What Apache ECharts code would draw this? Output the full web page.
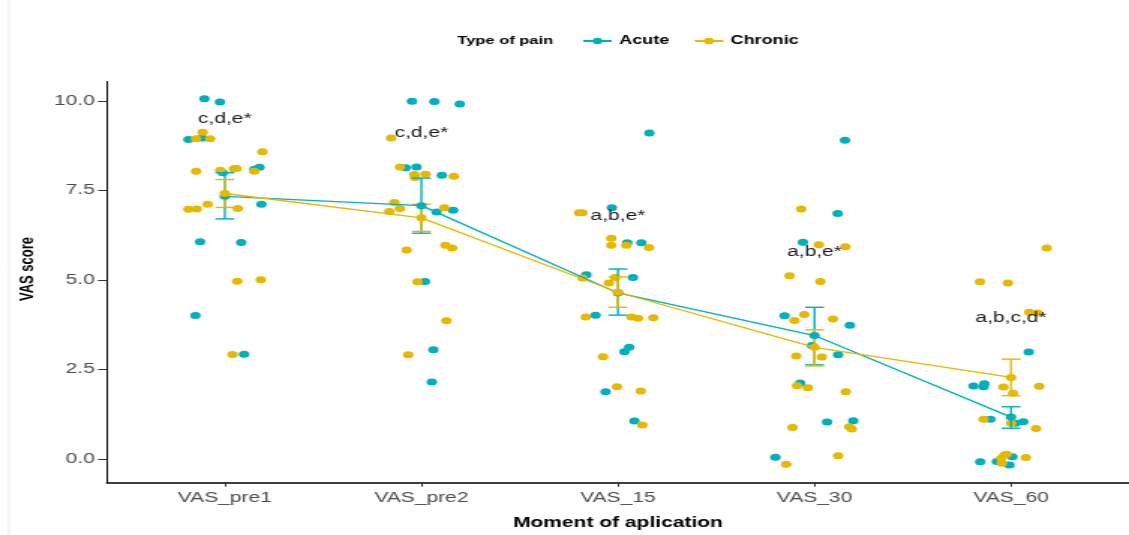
<!DOCTYPE html>
<html>
<head>
<meta charset="utf-8">
<script src="https://cdn.jsdelivr.net/npm/echarts@6/dist/echarts.min.js"></script>
<style>
  html, body { margin: 0; padding: 0; background: #fff; overflow: hidden; }
  /* the source picture is stretched sideways, so draw narrow and stretch */
  #main { width: 753px; height: 535px; transform: scaleX(1.4993); transform-origin: 0 0; }
</style>
</head>
<body>
<div id="main"></div>
<script>
var categories = ['VAS_pre1', 'VAS_pre2', 'VAS_15', 'VAS_30', 'VAS_60'];
var yTicks = [0, 2.5, 5, 7.5, 10];

// jittered observations, [x position (category index + jitter), VAS score]
var acutePoints = [
    [-0.104, 10.07], [-0.025, 9.98], [-0.185, 8.93], [-0.116, 8.97], [-0.011, 8.0], [0.176, 8.15],
    [0.15, 8.1], [0.186, 7.12], [-0.126, 6.07], [0.083, 6.05], [-0.15, 4.01], [0.098, 2.93],
    [0.952, 10.0], [1.066, 9.99], [1.195, 9.92], [0.92, 8.14], [0.975, 8.16], [1.104, 7.93],
    [1.077, 6.9], [1.161, 6.95], [1.018, 4.96], [1.061, 3.05], [1.053, 2.15],
    [2.16, 9.11], [1.969, 7.02], [2.047, 6.04], [2.119, 6.04], [1.839, 5.15], [2.076, 5.07],
    [1.886, 4.02], [2.057, 3.12], [2.033, 3.0], [1.937, 1.88], [2.084, 1.06],
    [3.155, 8.91], [3.118, 6.86], [2.941, 6.06], [2.848, 4.0], [3.18, 3.74], [2.987, 3.17],
    [3.12, 2.91], [2.927, 2.12], [3.064, 1.03], [3.197, 1.07], [2.801, 0.05],
    [4.09, 2.99], [3.809, 2.04], [3.864, 2.1], [3.86, 2.02], [3.895, 1.11], [4.062, 1.04],
    [4.022, 1.0], [3.843, -0.08], [3.928, -0.07], [4.007, 0.06], [3.992, -0.17]
];
var chronicPoints = [
    [-0.113, 9.13], [-0.146, 8.95], [-0.075, 8.95], [0.191, 8.59], [-0.146, 8.04], [-0.023, 8.07],
    [0.046, 8.11], [0.059, 8.12], [0.15, 8.04], [-0.185, 6.98], [-0.143, 6.99], [-0.087, 7.12],
    [0.066, 7.0], [0.063, 4.97], [0.183, 5.01], [0.039, 2.92],
    [0.846, 8.97], [0.891, 8.16], [0.964, 7.95], [1.021, 7.96], [0.967, 7.87], [1.165, 7.9],
    [0.863, 7.17], [0.891, 7.0], [0.837, 6.92], [1.117, 7.02], [0.925, 5.84], [1.122, 5.97],
    [1.156, 5.9], [0.98, 4.95], [1.127, 3.86], [0.933, 2.91],
    [1.802, 6.88], [1.819, 6.88], [1.966, 6.17], [1.966, 5.97], [2.043, 5.97], [2.158, 5.91],
    [1.954, 4.92], [1.986, 5.07], [1.819, 5.06], [1.836, 3.97], [2.069, 3.97], [2.102, 3.93],
    [2.18, 3.95], [1.924, 2.86], [1.995, 2.02], [2.116, 1.9], [2.124, 0.95],
    [2.932, 6.99], [3.022, 5.99], [3.157, 5.93], [2.873, 5.12], [3.03, 4.96], [2.898, 3.87],
    [2.948, 4.04], [3.094, 3.91], [2.907, 2.88], [3.037, 2.85], [2.911, 2.05], [2.966, 1.99],
    [3.159, 1.88], [2.888, 0.88], [3.177, 0.9], [3.19, 0.84], [3.12, 0.09], [2.856, -0.15],
    [4.181, 5.9], [3.842, 4.95], [3.984, 4.92], [4.093, 4.1], [4.135, 4.08], [3.961, 2.01],
    [4.143, 2.03], [4.01, 1.84], [3.86, 1.11], [4.0, 1.0], [4.127, 0.85], [3.966, 0.11],
    [3.95, 0.02], [3.978, 0.13], [3.953, -0.12], [4.075, 0.04]
];

// group means with error bar limits
var acuteMean = [7.34, 7.08, 4.64, 3.45, 1.17];
var acuteLow = [6.71, 6.31, 4.02, 2.63, 0.86];
var acuteHigh = [8.0, 7.85, 5.31, 4.24, 1.46];
var chronicMean = [7.42, 6.74, 4.66, 3.12, 2.28];
var chronicLow = [7.03, 6.36, 4.24, 2.6, 1.77];
var chronicHigh = [7.81, 7.12, 5.09, 3.61, 2.79];

// significance letters
var annoText = ['c,d,e*', 'c,d,e*', 'a,b,e*', 'a,b,e*', 'a,b,c,d*'];
var annoY = [9.49, 9.1, 6.78, 5.77, 3.94];

var acuteColor = '#00AFBB';
var chronicColor = '#E7B800';
var font = 'Liberation Sans, Arial, sans-serif';

function meanData(arr) {
    var out = [];
    for (var i = 0; i < arr.length; i++) {
        out.push([i, arr[i]]);
    }
    return out;
}
function barData(low, high) {
    var out = [];
    for (var i = 0; i < low.length; i++) {
        out.push([i, low[i], high[i]]);
    }
    return out;
}
function errorBar(color) {
    return function (params, api) {
        var x = api.value(0);
        var lo = api.coord([x, api.value(1)]);
        var hi = api.coord([x, api.value(2)]);
        var half = 6.3;
        var style = { stroke: color, lineWidth: 1.4 };
        return {
            type: 'group',
            children: [
                { type: 'line', shape: { x1: lo[0], y1: lo[1], x2: hi[0], y2: hi[1] }, style: style },
                { type: 'line', shape: { x1: lo[0] - half, y1: lo[1], x2: lo[0] + half, y2: lo[1] }, style: style },
                { type: 'line', shape: { x1: hi[0] - half, y1: hi[1], x2: hi[0] + half, y2: hi[1] }, style: style }
            ]
        };
    };
}

var annoData = [];
for (var i = 0; i < annoText.length; i++) {
    annoData.push({ name: annoText[i], value: [i, annoY[i]] });
}

var chart = echarts.init(document.getElementById('main'));
var option = {
    animation: false,
    backgroundColor: '#fff',
    textStyle: { fontFamily: font },
    title: {
        text: 'Type of pain',
        left: 305,
        top: 35,
        padding: 0,
        textStyle: { fontSize: 11, fontWeight: 'bold', color: '#000', fontFamily: font }
    },
    legend: {
        data: ['Acute', 'Chronic'],
        left: 388,
        top: 35,
        padding: 0,
        itemWidth: 19,
        itemHeight: 8,
        itemGap: 16,
        textStyle: { fontSize: 12, fontWeight: 'bold', color: '#000', fontFamily: font }
    },
    graphic: [
        {
            type: 'line',
            shape: { x1: 6, y1: 0, x2: 6, y2: 535 },
            style: { stroke: '#ececec', lineWidth: 1 }
        },
        {
            // y axis title, placed where the original has it
            type: 'text',
            x: 18.7,
            y: 269,
            rotation: Math.PI / 2,
            style: {
                text: 'VAS score',
                align: 'center',
                verticalAlign: 'middle',
                fontSize: 13,
                fontWeight: 'bold',
                fontFamily: font,
                fill: '#000'
            }
        }
    ],
    grid: { left: 71.3, right: -3.4, top: 81.5, bottom: 52.3 },
    xAxis: {
        type: 'value',
        min: -0.6,
        max: 4.6,
        name: 'Moment of aplication',
        nameLocation: 'middle',
        nameGap: 33,
        nameTextStyle: { fontSize: 14, fontWeight: 'bold', color: '#000', fontFamily: font },
        axisLine: { show: true, onZero: false, lineStyle: { color: '#000', width: 1.5 } },
        axisTick: { show: true, length: 4, customValues: [0, 1, 2, 3, 4], lineStyle: { color: '#333', width: 1 } },
        axisLabel: {
            customValues: [0, 1, 2, 3, 4],
            margin: 8,
            fontSize: 14,
            color: '#4d4d4d',
            fontFamily: font,
            formatter: function (v) { return categories[Math.round(v)]; }
        },
        splitLine: { show: false }
    },
    yAxis: {
        type: 'value',
        min: -0.663,
        max: 10.55,
        axisLine: { show: true, onZero: false, lineStyle: { color: '#000', width: 1 } },
        axisTick: { show: true, length: 6, customValues: yTicks, lineStyle: { color: '#333', width: 1 } },
        axisLabel: {
            customValues: yTicks,
            margin: 8,
            fontSize: 14,
            color: '#4d4d4d',
            fontFamily: font,
            formatter: function (v) { return v.toFixed(1); }
        },
        splitLine: { show: false }
    },
    series: [
        {
            name: 'Acute points',
            type: 'scatter',
            data: acutePoints,
            symbolSize: 7,
            itemStyle: { color: acuteColor, opacity: 1 },
            z: 2
        },
        {
            name: 'Chronic points',
            type: 'scatter',
            data: chronicPoints,
            symbolSize: 7,
            itemStyle: { color: chronicColor, opacity: 1 },
            z: 2
        },
        {
            name: 'Acute bars',
            type: 'custom',
            renderItem: errorBar(acuteColor),
            data: barData(acuteLow, acuteHigh),
            z: 3
        },
        {
            name: 'Chronic bars',
            type: 'custom',
            renderItem: errorBar(chronicColor),
            data: barData(chronicLow, chronicHigh),
            z: 3
        },
        {
            name: 'Acute',
            type: 'line',
            data: meanData(acuteMean),
            symbol: 'circle',
            symbolSize: 7,
            color: acuteColor,
            itemStyle: { color: acuteColor },
            lineStyle: { color: acuteColor, width: 1.3 },
            z: 4
        },
        {
            name: 'Chronic',
            type: 'line',
            data: meanData(chronicMean),
            symbol: 'circle',
            symbolSize: 7,
            color: chronicColor,
            itemStyle: { color: chronicColor },
            lineStyle: { color: chronicColor, width: 1.3 },
            z: 4
        },
        {
            name: 'letters',
            type: 'scatter',
            data: annoData,
            symbolSize: 1,
            itemStyle: { color: 'rgba(0,0,0,0)' },
            label: {
                show: true,
                position: 'inside',
                formatter: '{b}',
                fontSize: 14,
                color: '#1a1a1a',
                opacity: 1,
                textBorderWidth: 0,
                fontFamily: font
            },
            z: 5
        }
    ]
};
chart.setOption(option);
</script>
</body>
</html>
